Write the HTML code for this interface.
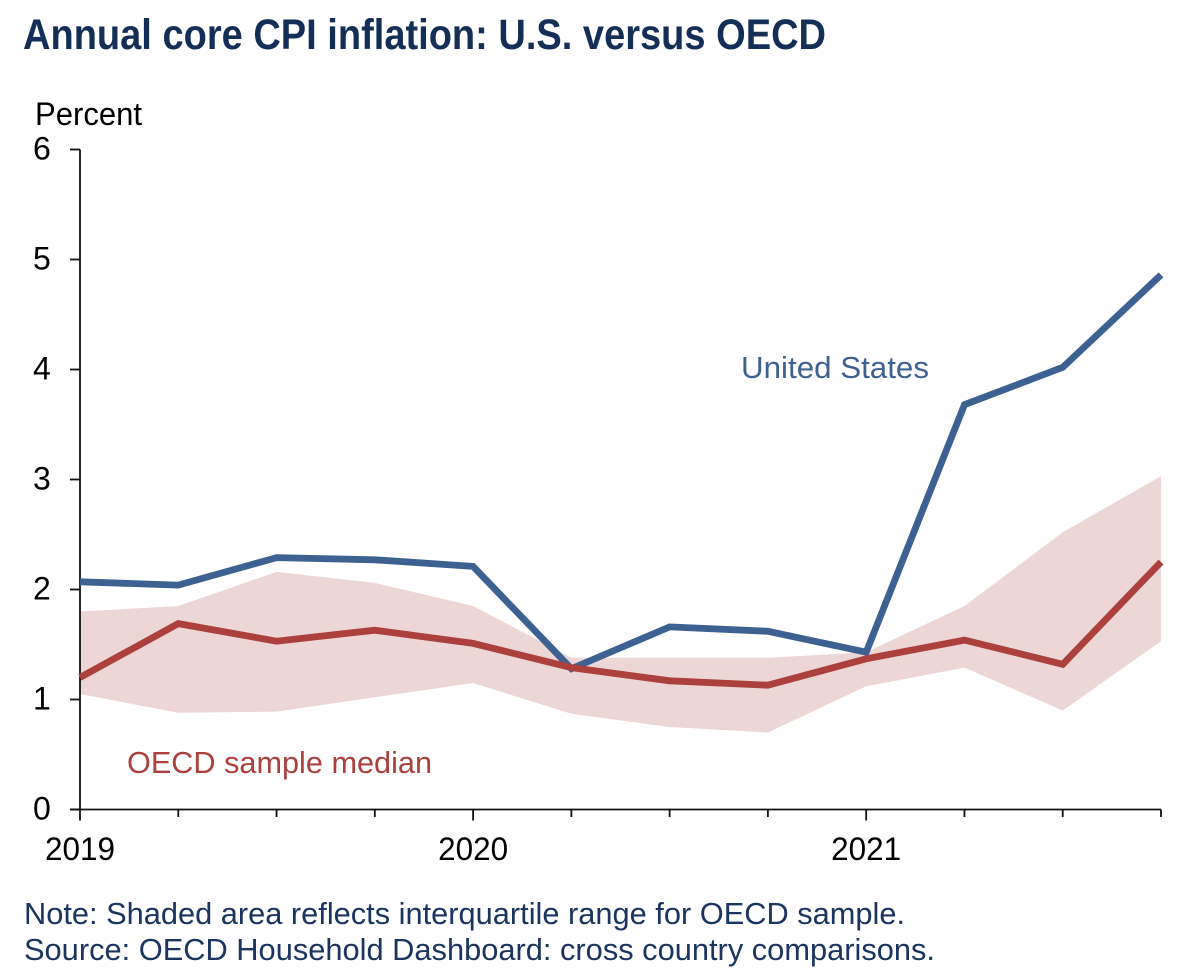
<!DOCTYPE html>
<html lang="en">
<head>
<meta charset="utf-8">
<title>Annual core CPI inflation: U.S. versus OECD</title>
<style>
html,body{margin:0;padding:0;background:#fff;width:1200px;height:976px;overflow:hidden}
svg{display:block}
text{font-family:"Liberation Sans",sans-serif}
</style>
</head>
<body>
<svg id="chart" xmlns="http://www.w3.org/2000/svg" width="1200" height="976" viewBox="0 0 1200 976">
  <rect width="1200" height="976" fill="#ffffff"/>
  <text x="23" y="49" font-size="43" font-weight="700" fill="#142f57" textLength="803" lengthAdjust="spacingAndGlyphs">Annual core CPI inflation: U.S. versus OECD</text>
  <text x="35" y="125" font-size="32" fill="#000000" textLength="107" lengthAdjust="spacingAndGlyphs">Percent</text>
  <g id="band-layer"></g>
  <g id="axis-layer"></g>
  <g id="line-layer"></g>
  <text x="741" y="378" font-size="31" fill="#3d6291" textLength="188" lengthAdjust="spacingAndGlyphs">United States</text>
  <text x="127" y="773" font-size="31" fill="#ab403d" textLength="305" lengthAdjust="spacingAndGlyphs">OECD sample median</text>
  <text x="24" y="924" font-size="31" fill="#1a3560" textLength="881" lengthAdjust="spacingAndGlyphs">Note: Shaded area reflects interquartile range for OECD sample.</text>
  <text x="24" y="960" font-size="31" fill="#1a3560" textLength="911" lengthAdjust="spacingAndGlyphs">Source: OECD Household Dashboard: cross country comparisons.</text>
</svg>
<script>
const quarters = ['2019Q1','2019Q2','2019Q3','2019Q4','2020Q1','2020Q2','2020Q3','2020Q4','2021Q1','2021Q2','2021Q3','2021Q4'];
const usValues = [2.07,2.04,2.29,2.27,2.21,1.28,1.66,1.62,1.43,3.68,4.02,4.86];
const oecdMedian = [1.20,1.69,1.53,1.63,1.51,1.29,1.17,1.13,1.37,1.54,1.32,2.25];
const oecdUpper = [1.80,1.85,2.16,2.06,1.85,1.38,1.38,1.38,1.43,1.85,2.52,3.03];
const oecdLower = [1.05,0.88,0.89,1.02,1.15,0.87,0.75,0.70,1.12,1.29,0.90,1.53];
const yTicks = [0,1,2,3,4,5,6];
const yearLabels = ['2019','2020','2021'];

const NS = 'http://www.w3.org/2000/svg';
const plot = {left:80, right:1161, top:149.5, bottom:809.5};
const yMax = 6;
function xScale(i){ return plot.left + i * (plot.right - plot.left) / (quarters.length - 1); }
function yScale(v){ return plot.bottom - v * (plot.bottom - plot.top) / yMax; }
function make(tag, attrs, parent){
  const el = document.createElementNS(NS, tag);
  for (const k in attrs) el.setAttribute(k, attrs[k]);
  parent.appendChild(el);
  return el;
}
const bandLayer = document.getElementById('band-layer');
const axisLayer = document.getElementById('axis-layer');
const lineLayer = document.getElementById('line-layer');

/* interquartile band */
const upperPts = oecdUpper.map((v,i)=>xScale(i).toFixed(2)+','+yScale(v).toFixed(2));
const lowerPts = oecdLower.map((v,i)=>xScale(i).toFixed(2)+','+yScale(v).toFixed(2)).reverse();
const band = make('polygon',{points:upperPts.concat(lowerPts).join(' '),fill:'#edd6d6'},bandLayer);



/* axes */
const yAxisLine = make('line',{x1:plot.left,x2:plot.left,y1:plot.top,y2:plot.bottom,stroke:'#111',"stroke-width":1.8},axisLayer);


const xAxisLine = make('line',{x1:70,x2:plot.right,y1:plot.bottom,y2:plot.bottom,stroke:'#111',"stroke-width":1.8},axisLayer);



yTicks.forEach(function(t){
  const tick = make('line',{x1:70,x2:plot.left,y1:yScale(t),y2:yScale(t),stroke:'#111',"stroke-width":1.8},axisLayer);
  
  
  const label = make('text',{x:33,y:yScale(t)+10,"font-size":32,fill:'#000'},axisLayer);
  
  
  label.textContent = t;
});
quarters.forEach(function(q,i){
  const isYear = i % 4 === 0;
  const tick = make('line',{x1:xScale(i),x2:xScale(i),y1:plot.bottom,y2:plot.bottom+(isYear?11:7.5),stroke:'#111',"stroke-width":1.8},axisLayer);
  
  
});
yearLabels.forEach(function(y,j){
  const label = make('text',{x:xScale(j*4),y:860,"font-size":32,fill:'#000',"text-anchor":'middle',textLength:70,lengthAdjust:'spacingAndGlyphs'},axisLayer);
  
  
  label.textContent = y;
});

/* lines */
function linePoints(values){ return values.map((v,i)=>xScale(i).toFixed(2)+','+yScale(v).toFixed(2)).join(' '); }
const usLine = make('polyline',{points:linePoints(usValues),fill:'none',stroke:'#3d6291',"stroke-width":6.8,"stroke-linejoin":'miter'},lineLayer);


const oecdLine = make('polyline',{points:linePoints(oecdMedian),fill:'none',stroke:'#ab403d',"stroke-width":6.8,"stroke-linejoin":'miter'},lineLayer);


</script>
</body>
</html>
